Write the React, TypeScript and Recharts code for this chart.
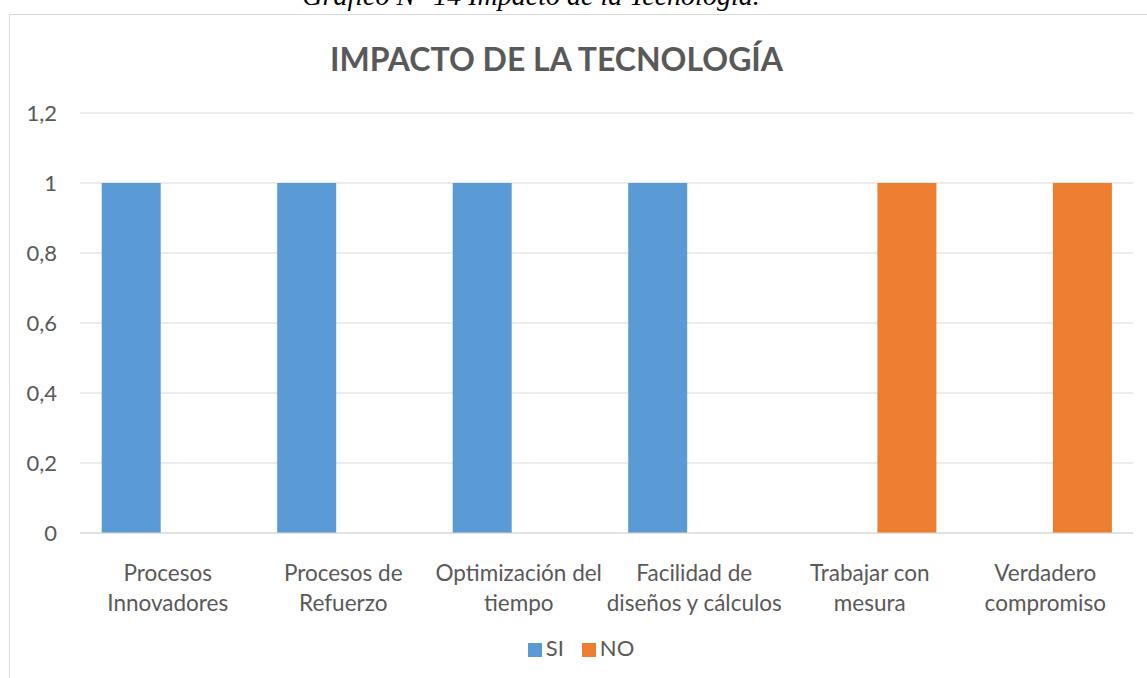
import { Bar, BarChart, CartesianGrid, Legend, XAxis, YAxis } from "recharts";

// categorías del eje X (salto de línea como en el original)
const CATEGORIES = [
  "Procesos\nInnovadores",
  "Procesos de\nRefuerzo",
  "Optimización del\ntiempo",
  "Facilidad de\ndiseños y cálculos",
  "Trabajar con\nmesura",
  "Verdadero\ncompromiso",
];
const SERIES = ["SI", "NO"];
const SI = [1, 1, 1, 1, 0, 0];
const NO = [0, 0, 0, 0, 1, 1];
const Y_TICKS = [0, 0.2, 0.4, 0.6, 0.8, 1, 1.2];

const COLORS = {
  si: "#5B9BD5",
  no: "#ED7D31",
  grid: "#D9D9D9",
  text: "#595959",
};

const FONT = "Lato, 'Open Sans', sans-serif";

const data = CATEGORIES.map((name, i) => ({ name, SI: SI[i], NO: NO[i] }));

function CategoryTick(props: any) {
  const { x, y, payload } = props;
  const lines = String(payload.value).split("\n");
  return (
    <text x={x} y={y} textAnchor="middle" fill={COLORS.text} fontSize={22.5} fontFamily={FONT}>
      {lines.map((line, i) => (
        <tspan key={i} x={x} y={y + 40 + i * 30}>
          {line}
        </tspan>
      ))}
    </text>
  );
}

export default function App() {
  return (
    <div
      style={{
        position: "absolute",
        left: 0,
        top: 0,
        width: 1147,
        height: 678,
        overflow: "hidden",
        background: "#fff",
      }}
    >
      {/* pie de figura, cortado arriba como en la captura */}
      <div
        style={{
          position: "absolute",
          left: 0,
          width: 1062,
          top: -20,
          textAlign: "center",
          fontFamily: "'Liberation Serif', 'DejaVu Serif', serif",
          fontStyle: "italic",
          fontSize: 28,
          color: "#000",
          whiteSpace: "nowrap",
        }}
      >
        Gráfico N° 14 Impacto de la Tecnología.
      </div>
      <div
        style={{
          position: "absolute",
          left: 9,
          top: 14,
          width: 1160,
          height: 720,
          border: `1px solid ${COLORS.grid}`,
        }}
      />
      <div
        style={{
          position: "absolute",
          left: 0,
          width: 1113,
          top: 39,
          textAlign: "center",
          fontFamily: FONT,
          fontWeight: 700,
          fontSize: 32,
          color: COLORS.text,
          whiteSpace: "nowrap",
        }}
      >
        IMPACTO DE LA TECNOLOGÍA
      </div>
      <div style={{ position: "absolute", left: 0, top: 0 }}>
        <BarChart
          width={1147}
          height={678}
          data={data}
          margin={{ top: 113, right: 14, bottom: 65, left: 20 }}
          barCategoryGap={21.7}
          barGap={14.7}
        >
          <CartesianGrid vertical={false} stroke={COLORS.grid} />
          <XAxis
            dataKey="name"
            height={80}
            interval={0}
            tickLine={false}
            axisLine={{ stroke: COLORS.grid }}
            tick={<CategoryTick />}
          />
          <YAxis
            width={60}
            domain={[0, 1.2]}
            ticks={Y_TICKS}
            tickFormatter={(v: number) => String(v).replace(".", ",")}
            tickLine={false}
            axisLine={false}
            tickMargin={17}
            tick={{ fill: COLORS.text, fontSize: 22, fontFamily: FONT }}
          />
          <Legend
            layout="horizontal"
            verticalAlign="middle"
            align="center"
            iconType="square"
            iconSize={14}
            itemSorter={(item: any) => SERIES.indexOf(item.value)}
            wrapperStyle={{ top: 634, left: 0, width: 1180, fontFamily: FONT, fontSize: 22 }}
            formatter={(value) => (
              <span style={{ color: COLORS.text, marginRight: 8 }}>{value}</span>
            )}
          />
          <Bar dataKey="SI" fill={COLORS.si} isAnimationActive={false} />
          <Bar dataKey="NO" fill={COLORS.no} isAnimationActive={false} />
        </BarChart>
      </div>
    </div>
  );
}
